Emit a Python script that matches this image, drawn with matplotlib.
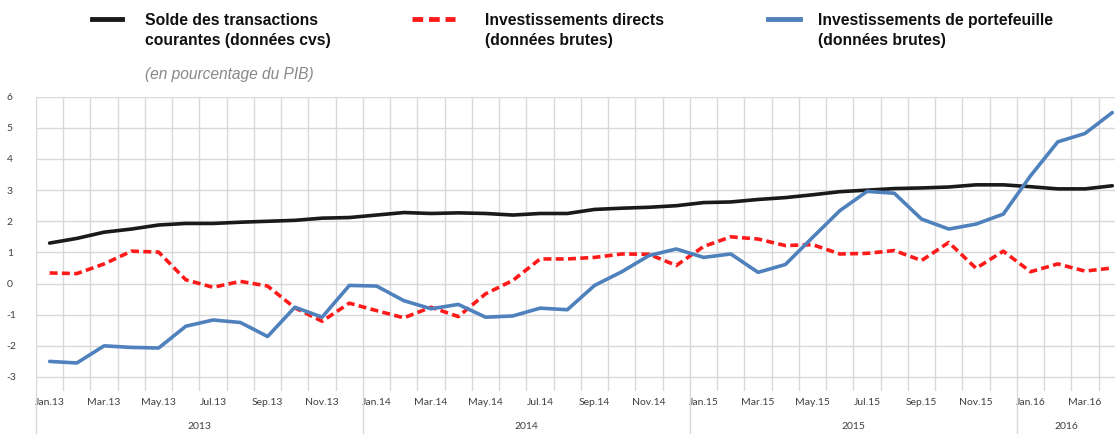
import matplotlib
matplotlib.use("Agg")
import matplotlib.pyplot as plt
from matplotlib.lines import Line2D
import numpy as np

months = ["Jan", "Feb", "Mar", "Apr", "May", "Jun", "Jul", "Aug", "Sep", "Oct", "Nov", "Dec"]
periods = [f"{m}.{y}" for y in ["13", "14", "15", "16"] for m in months][:40]
years = ["2013", "2014", "2015", "2016"]

solde = [1.30, 1.45, 1.65, 1.75, 1.88, 1.93, 1.93, 1.97, 2.00, 2.03, 2.10, 2.12,
         2.20, 2.28, 2.25, 2.27, 2.25, 2.20, 2.25, 2.25, 2.38, 2.42, 2.45, 2.50,
         2.60, 2.62, 2.70, 2.76, 2.85, 2.95, 3.00, 3.05, 3.07, 3.10, 3.17, 3.17,
         3.11, 3.04, 3.04, 3.14]
directs = [0.34, 0.32, 0.63, 1.04, 1.01, 0.12, -0.12, 0.07, -0.08, -0.78, -1.21, -0.63,
           -0.87, -1.10, -0.76, -1.06, -0.33, 0.10, 0.79, 0.79, 0.84, 0.95, 0.94, 0.58,
           1.19, 1.50, 1.43, 1.22, 1.25, 0.95, 0.97, 1.06, 0.74, 1.32, 0.49, 1.04,
           0.38, 0.63, 0.40, 0.50]
portefeuille = [-2.50, -2.55, -2.00, -2.05, -2.07, -1.37, -1.17, -1.25, -1.70, -0.76, -1.08, -0.06,
                -0.08, -0.55, -0.81, -0.67, -1.08, -1.04, -0.79, -0.84, -0.06, 0.38, 0.90, 1.11,
                0.84, 0.95, 0.36, 0.61, 1.48, 2.34, 2.96, 2.90, 2.07, 1.75, 1.91, 2.23,
                3.46, 4.55, 4.82, 5.49]

W, H = 1115, 434
fig = plt.figure(figsize=(W / 100, H / 100), dpi=100)
ax = fig.add_axes([36 / W, 1 - 391 / H, 1 - 36 / W, (391 - 96.7) / H])

x = np.arange(len(periods))
c_black = "#1a1a1a"
c_red = "#ff1a1a"
c_blue = "#4f81bd"

ax.plot(x, solde, color=c_black, lw=2.6, solid_capstyle="round", zorder=3)
ax.plot(x, directs, color=c_red, lw=2.6, ls=(0, (2.2, 1.2)), zorder=3)
ax.plot(x, portefeuille, color=c_blue, lw=2.6, solid_capstyle="round", zorder=3)

xmax = 39.1
ax.set_xlim(-0.5, xmax)
ax.set_ylim(-3.45, 6.0)

grid_c = "#d9d9d9"
for b in np.arange(-0.5, xmax, 1.0):
    ax.axvline(b, color=grid_c, lw=1.0, zorder=1)
for v in range(-3, 7):
    ax.axhline(v, color=grid_c, lw=1.0, zorder=1)

for s in ax.spines.values():
    s.set_visible(False)

tick_font = "Lato"
ax.set_yticks(range(-3, 7))
ax.set_yticklabels([str(v) for v in range(-3, 7)], family=tick_font)
ax.set_xticks(x[::2])
ax.set_xticklabels(periods[::2], family=tick_font)
ax.tick_params(axis="both", length=0, labelsize=7.5, colors="#404040")
ax.tick_params(axis="y", pad=21)
ax.tick_params(axis="x", pad=5)
for lbl in ax.get_yticklabels():
    lbl.set_horizontalalignment("left")

# year separators and labels
trans = ax.get_xaxis_transform()
for i, yr in enumerate(years):
    start = i * 12 - 0.5
    end = min(start + 12, xmax)
    ax.add_line(Line2D([start, start], [0, -0.16], transform=trans, color=grid_c,
                       lw=1.0, clip_on=False))
    ax.text((start + end) / 2, -0.122, yr, transform=trans, ha="center", va="center",
            fontsize=7.5, color="#404040", family=tick_font)

# legend
leg_y1 = 1 - 20.5 / H
leg_y2 = 1 - 40.5 / H
items = [
    (92, 122, c_black, "-", "Solde des transactions", "courantes (données cvs)", 145),
    (412, 455, c_red, (0, (2.2, 1.2)), "Investissements directs", "(données brutes)", 485),
    (768, 800, c_blue, "-", "Investissements de portefeuille", "(données brutes)", 818),
]
for x0, x1, col, ls, t1, t2, tx in items:
    fig.add_artist(Line2D([x0 / W, x1 / W], [1 - 19 / H, 1 - 19 / H], color=col, lw=3.5, ls=ls))
    fig.text(tx / W, leg_y1, t1, fontsize=11.3, fontweight="bold", va="center", ha="left",
             family="Liberation Sans", color="#111111")
    fig.text(tx / W, leg_y2, t2, fontsize=11.3, fontweight="bold", va="center", ha="left",
             family="Liberation Sans", color="#111111")

fig.text(145 / W, 1 - 75 / H, "(en pourcentage du PIB)", fontsize=11.2, style="italic",
         color="#888888", va="center", ha="left", family="Liberation Sans")

fig.savefig("out.png", dpi=100)
